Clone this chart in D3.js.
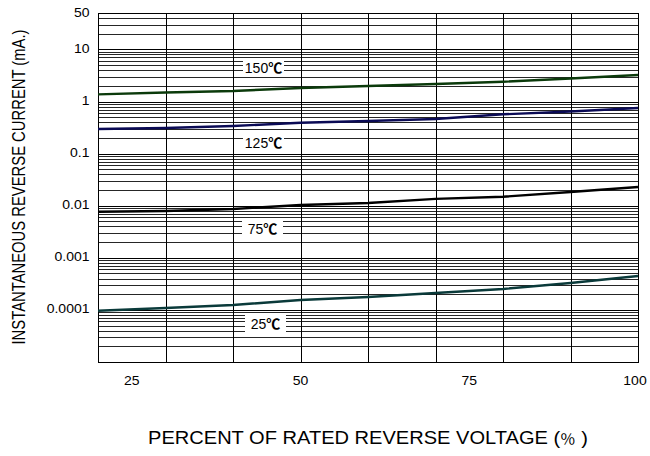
<!DOCTYPE html>
<html>
<head>
<meta charset="utf-8">
<script src="https://cdn.jsdelivr.net/npm/d3@7"></script>
<style>
  body { margin: 0; background: #fff; }
  svg { font-family: "Liberation Sans", Arial, sans-serif; }
</style>
</head>
<body>
<svg id="chart" width="650" height="456"></svg>
<script>
// percent of rated reverse voltage
var voltage = [20, 30, 40, 50, 60, 70, 80, 90, 100];
// current in mA, one array per temperature
var cur150 = [1.37, 1.49, 1.59, 1.82, 1.98, 2.17, 2.40, 2.76, 3.22];
var cur125 = [0.297, 0.31, 0.339, 0.392, 0.422, 0.461, 0.568, 0.643, 0.75];
var cur75 = [0.00767, 0.00791, 0.00865, 0.0103, 0.0113, 0.0135, 0.0149, 0.0183, 0.0229];
var cur25 = [0.0000966, 0.000109, 0.000124, 0.000155, 0.000177, 0.000211, 0.000252, 0.000328, 0.000448];

var xTicks = [25, 50, 75, 100];
var yTicks = [50, 10, 1, 0.1, 0.01, 0.001, 0.0001];
var yTickLabels = ["50", "10", "1", "0.1", "0.01", "0.001", "0.0001"];

var series = [
  { name: "150", values: cur150, color: "#0b3a0b", lx: 243, ly: 58 },
  { name: "125", values: cur125, color: "#0a0a55", lx: 243, ly: 133 },
  { name: "75", values: cur75, color: "#000000", lx: 242, ly: 219 },
  { name: "25", values: cur25, color: "#0a3a3a", lx: 245, ly: 314 }
];

var svg = d3.select("#chart");
var pLeft = 98, pRight = 638, pTop = 13, pBottom = 362;

var x = d3.scaleLinear().domain([20, 100]).range([pLeft, pRight]);
var y = d3.scaleLog().domain([0.00001, 50]).range([pBottom, pTop]);

// horizontal log grid: 1..9 of every decade, plus 20,30,40 up top
var gridVals = [];
for (var e = -5; e <= 1; e++) {
  for (var m = 1; m <= 9; m++) {
    var v = m * Math.pow(10, e);
    if (v <= 50) gridVals.push(v);
  }
}
gridVals.push(50);

var grid = svg.append("g").attr("shape-rendering", "crispEdges");
grid.selectAll("line.h").data(gridVals).enter().append("line")
  .attr("class", "h")
  .attr("x1", pLeft).attr("x2", pRight)
  .attr("y1", function(d) { return Math.round(y(d)) + 0.5; })
  .attr("y2", function(d) { return Math.round(y(d)) + 0.5; })
  .attr("stroke", function(d) {
    var l = Math.log10(d);
    return Math.abs(l - Math.round(l)) < 1e-9 ? "#000" : "#262626";
  })
  .attr("stroke-width", 1);

grid.selectAll("line.v").data(d3.range(20, 101, 10)).enter().append("line")
  .attr("class", "v")
  .attr("y1", pTop).attr("y2", pBottom)
  .attr("x1", function(d) { return Math.round(x(d)) + 0.5; })
  .attr("x2", function(d) { return Math.round(x(d)) + 0.5; })
  .attr("stroke", "#000")
  .attr("stroke-width", 1.5);

grid.append("rect")
  .attr("x", pLeft + 0.5).attr("y", pTop + 0.5)
  .attr("width", pRight - pLeft).attr("height", pBottom - pTop)
  .attr("fill", "none").attr("stroke", "#000").attr("stroke-width", 1.5);

// curves
var line = d3.line()
  .x(function(d, i) { return x(voltage[i]); })
  .y(function(d) { return y(d); });

svg.selectAll("path.curve").data(series).enter().append("path")
  .attr("class", "curve")
  .attr("d", function(s) { return line(s.values); })
  .attr("fill", "none")
  .attr("stroke", function(s) { return s.color; })
  .attr("stroke-width", 2.4);

// temperature labels
var lab = svg.selectAll("g.lab").data(series).enter().append("g")
  .attr("class", "lab")
  .attr("transform", function(s) { return "translate(" + s.lx + "," + s.ly + ")"; });
lab.append("rect")
  .attr("width", 41).attr("height", 18).attr("fill", "#fff");
var lt = lab.append("text")
  .attr("x", 20.5).attr("y", 14.5)
  .attr("text-anchor", "middle")
  .attr("font-size", 14)
  .attr("fill", "#000");
lt.append("tspan").text(function(s) { return s.name; });
lt.append("tspan")
  .attr("font-family", "'Noto Sans CJK SC', sans-serif")
  .attr("font-weight", "bold")
  .text("\u2103");

// y tick labels
svg.selectAll("text.yt").data(yTicks).enter().append("text")
  .attr("class", "yt")
  .attr("transform", function(d) { return "translate(89.5," + (y(d) + 3.5) + ") scale(1.12,1)"; })
  .attr("text-anchor", "end")
  .attr("font-size", 12.5)
  .attr("fill", "#000")
  .text(function(d, i) { return yTickLabels[i]; });

// x tick labels
svg.selectAll("text.xt").data(xTicks).enter().append("text")
  .attr("class", "xt")
  .attr("transform", function(d) {
    var px = d === 100 ? x(d) - 3 : x(d);
    return "translate(" + px + ",384.5) scale(1.12,1)";
  })
  .attr("text-anchor", "middle")
  .attr("font-size", 12.5)
  .attr("fill", "#000")
  .text(function(d) { return d; });

// axis titles
var xt = svg.append("text")
  .attr("x", 148).attr("y", 444)
  .attr("textLength", 440)
  .attr("lengthAdjust", "spacingAndGlyphs")
  .attr("font-size", 18)
  .attr("fill", "#000");
xt.append("tspan").text("PERCENT OF RATED REVERSE VOLTAGE (");
xt.append("tspan").attr("font-family", "'Noto Sans CJK SC', sans-serif").attr("font-size", 14).text("\uFF05");
xt.append("tspan").text(" )");

svg.append("text")
  .attr("transform", "translate(25,187) scale(1.2,1) rotate(-90)")
  .attr("text-anchor", "middle")
  .attr("textLength", 315)
  .attr("lengthAdjust", "spacingAndGlyphs")
  .attr("font-size", 14.7)
  .attr("fill", "#000")
  .text("INSTANTANEOUS REVERSE CURRENT (mA.)");
</script>
</body>
</html>
